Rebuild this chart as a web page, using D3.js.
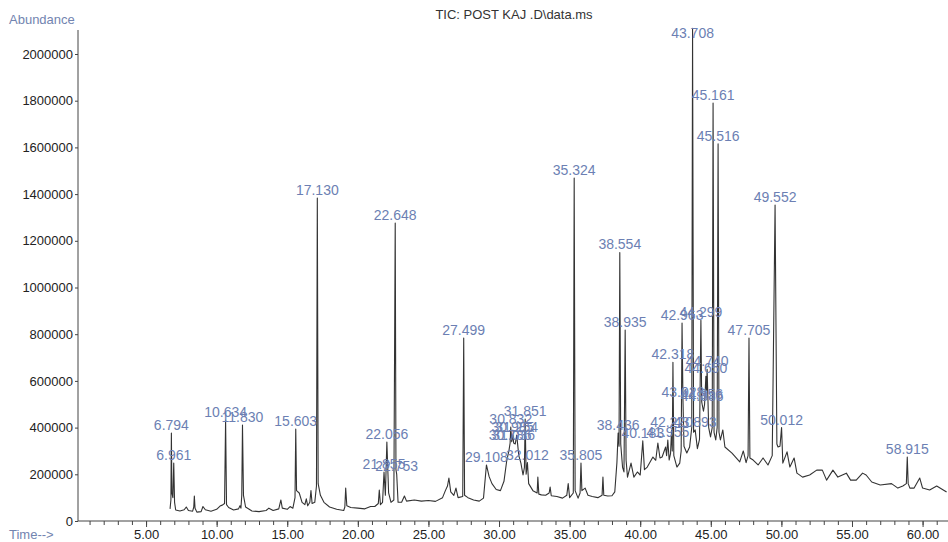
<!DOCTYPE html>
<html>
<head>
<meta charset="utf-8">
<script src="https://cdn.jsdelivr.net/npm/d3@7"></script>
<style>
  body { margin: 0; background: #fff; }
  svg { display: block; font-family: "Liberation Sans", Arial, sans-serif; }
  .trace { fill: none; stroke: #333; stroke-width: 1.1; stroke-linejoin: round; }
  .peak { fill: #6c7fb3; font-size: 14px; text-anchor: middle; }
  .axis path, .axis line { stroke: #444; }
  .axis text { fill: #222; font-size: 13px; }
</style>
</head>
<body>
<svg width="948" height="542"></svg>
<script>
// retention time (min), abundance
var ticTrace = [
  [6.70, 52000], [6.76, 90000], [6.794, 377000], [6.83, 120000], [6.90, 100000],
  [6.961, 248000], [7.02, 80000], [7.10, 47000], [7.40, 43000], [7.70, 48000],
  [7.85, 60000], [8.00, 45000], [8.30, 42000], [8.38, 60000], [8.42, 107000],
  [8.47, 55000], [8.60, 38000], [8.90, 40000], [9.03, 62000], [9.20, 48000],
  [9.60, 42000], [10.00, 50000], [10.24, 64000], [10.40, 68000], [10.56, 75000],
  [10.634, 432000], [10.70, 70000], [10.85, 58000], [11.20, 47000], [11.55, 52000],
  [11.65, 65000], [11.72, 55000], [11.78, 110000], [11.830, 411000], [11.90, 110000],
  [12.05, 60000], [12.50, 43000], [13.00, 40000], [13.50, 45000], [13.70, 55000],
  [14.00, 45000], [14.40, 52000], [14.55, 90000], [14.65, 55000], [15.00, 50000],
  [15.20, 62000], [15.40, 55000], [15.55, 100000], [15.603, 394000], [15.66, 130000],
  [15.85, 120000], [16.05, 80000], [16.25, 70000], [16.35, 95000], [16.45, 65000],
  [16.60, 80000], [16.68, 130000], [16.76, 75000], [16.95, 80000], [17.07, 150000],
  [17.130, 1383000], [17.19, 160000], [17.35, 110000], [17.60, 80000], [18.00, 60000],
  [18.50, 50000], [19.00, 45000], [19.08, 60000], [19.14, 141000], [19.22, 65000],
  [19.50, 58000], [20.00, 55000], [20.50, 52000], [20.90, 62000], [21.20, 62000],
  [21.45, 75000], [21.52, 133000], [21.60, 70000], [21.75, 80000], [21.855, 210000],
  [21.95, 110000], [22.056, 338000], [22.18, 120000], [22.35, 80000], [22.55, 90000],
  [22.648, 1276000], [22.70, 220000], [22.753, 200000], [22.85, 80000], [23.10, 80000],
  [23.30, 107000], [23.45, 85000], [24.00, 90000], [24.50, 85000], [25.00, 88000],
  [25.50, 84000], [26.00, 100000], [26.20, 130000], [26.35, 150000], [26.45, 184000],
  [26.58, 125000], [26.80, 110000], [26.95, 141000], [27.10, 100000], [27.43, 105000],
  [27.499, 784000], [27.56, 110000], [27.80, 100000], [28.20, 90000], [28.60, 85000],
  [28.90, 98000], [29.108, 240000], [29.30, 190000], [29.50, 160000], [29.80, 135000],
  [30.10, 130000], [30.35, 170000], [30.55, 260000], [30.70, 300000], [30.786, 334000],
  [30.832, 402000], [30.90, 340000], [30.985, 368000], [31.036, 334000], [31.15, 330000],
  [31.254, 368000], [31.40, 280000], [31.55, 248000], [31.70, 197000], [31.80, 230000],
  [31.851, 437000], [31.92, 200000], [32.012, 250000], [32.10, 160000], [32.40, 130000],
  [32.70, 120000], [32.75, 188000], [32.82, 115000], [33.00, 112000], [33.30, 110000],
  [33.55, 120000], [33.62, 145000], [33.70, 108000], [34.10, 105000], [34.50, 98000],
  [34.80, 110000], [34.90, 160000], [35.00, 100000], [35.26, 120000], [35.324, 1469000],
  [35.39, 130000], [35.60, 98000], [35.74, 120000], [35.805, 248000], [35.87, 130000],
  [36.10, 141000], [36.30, 110000], [36.60, 105000], [37.00, 100000], [37.30, 110000],
  [37.36, 188000], [37.42, 110000], [37.70, 107000], [38.00, 108000], [38.20, 125000],
  [38.35, 250000], [38.436, 377000], [38.50, 320000], [38.554, 1150000], [38.62, 330000],
  [38.75, 230000], [38.85, 210000], [38.935, 818000], [39.00, 260000], [39.10, 188000],
  [39.35, 248000], [39.55, 188000], [39.80, 210000], [40.00, 197000], [40.183, 343000],
  [40.30, 220000], [40.50, 231000], [40.90, 274000], [41.10, 260000], [41.25, 334000],
  [41.40, 270000], [41.55, 274000], [41.80, 317000], [41.87, 280000], [41.955, 347000],
  [42.05, 261000], [42.15, 290000], [42.220, 390000], [42.27, 300000], [42.318, 680000],
  [42.38, 280000], [42.60, 231000], [42.80, 248000], [42.90, 300000], [42.963, 848000],
  [43.028, 520000], [43.10, 320000], [43.30, 291000], [43.50, 317000], [43.65, 400000],
  [43.708, 2110000], [43.78, 380000], [43.893, 390000], [44.05, 310000], [44.20, 350000],
  [44.299, 860000], [44.356, 510000], [44.386, 500000], [44.48, 470000], [44.56, 500000],
  [44.650, 620000], [44.70, 560000], [44.740, 650000], [44.85, 400000], [44.98, 360000],
  [45.10, 400000], [45.161, 1790000], [45.23, 380000], [45.35, 347000], [45.45, 400000],
  [45.516, 1615000], [45.58, 380000], [45.68, 347000], [45.85, 390000], [46.00, 317000],
  [46.50, 291000], [46.80, 270000], [47.05, 253000], [47.30, 300000], [47.50, 250000],
  [47.64, 280000], [47.705, 784000], [47.77, 270000], [48.00, 261000], [48.35, 240000],
  [48.70, 270000], [49.05, 240000], [49.35, 280000], [49.552, 1353000], [49.68, 330000],
  [49.76, 317000], [49.90, 320000], [50.012, 400000], [50.10, 248000], [50.40, 296000],
  [50.60, 231000], [50.90, 270000], [51.10, 205000], [51.50, 188000], [52.00, 197000],
  [52.50, 218000], [52.90, 218000], [53.20, 175000], [53.65, 218000], [54.00, 188000],
  [54.60, 205000], [54.90, 175000], [55.30, 175000], [55.75, 205000], [56.00, 197000],
  [56.40, 167000], [57.00, 154000], [57.80, 160000], [58.25, 141000], [58.60, 150000],
  [58.85, 160000], [58.915, 274000], [58.98, 160000], [59.10, 141000], [59.40, 141000],
  [59.80, 184000], [60.00, 141000], [60.50, 133000], [61.00, 150000], [61.70, 124000]
];

// integrated peaks that carry a retention-time label
var peakLabels = [
  '6.794', '6.961', '10.634', '11.830', '15.603', '17.130', '21.855', '22.056',
  '22.648', '22.753', '27.499', '29.108', '30.786', '30.832', '30.985', '31.036',
  '31.254', '31.851', '32.012', '35.324', '35.805', '38.436', '38.554', '38.935',
  '40.183', '41.955', '42.220', '42.318', '42.963', '43.028', '43.708', '43.893',
  '44.299', '44.356', '44.386', '44.650', '44.740', '45.161', '45.516', '47.705',
  '49.552', '50.012', '58.915'
];

var timeTicks = [5, 10, 15, 20, 25, 30, 35, 40, 45, 50, 55, 60];
var abundanceTicks = [0, 200000, 400000, 600000, 800000, 1000000, 1200000,
  1400000, 1600000, 1800000, 2000000];

var svg = d3.select('svg');

var x = d3.scaleLinear().domain([0.18, 61.8]).range([78, 948]);
var y = d3.scaleLinear().domain([0, 2000000]).range([521, 54]);

// title and axis captions
svg.append('text')
  .attr('x', 514).attr('y', 19)
  .attr('text-anchor', 'middle')
  .style('font-size', '13px').style('fill', '#333')
  .text('TIC: POST KAJ .D\\data.ms');

svg.append('text')
  .attr('x', 9).attr('y', 24)
  .style('font-size', '13px').style('fill', '#7284b0')
  .text('Abundance');

svg.append('text')
  .attr('x', 9).attr('y', 539)
  .style('font-size', '13px').style('fill', '#7284b0')
  .text('Time-->');

// y axis
var yAxis = svg.append('g')
  .attr('class', 'axis')
  .attr('transform', 'translate(78,0)')
  .call(d3.axisLeft(y).tickValues(abundanceTicks).tickSize(3).tickPadding(2)
    .tickFormat(d3.format('d')));
yAxis.select('.domain').attr('d', 'M0,30V521');

// x axis: minor ticks every minute, labelled every 5
var xMinor = svg.append('g')
  .attr('class', 'axis')
  .attr('transform', 'translate(0,521)')
  .call(d3.axisBottom(x).tickValues(d3.range(1, 62)).tickSize(4).tickFormat(''));
xMinor.select('.domain').remove();

var xAxis = svg.append('g')
  .attr('class', 'axis')
  .attr('transform', 'translate(0,521)')
  .call(d3.axisBottom(x).tickValues(timeTicks).tickSize(6).tickPadding(3)
    .tickFormat(d3.format('.2f')));
xAxis.select('.domain').attr('d', 'M78,0H948');

// chromatogram trace
var line = d3.line()
  .x(function(d) { return x(d[0]); })
  .y(function(d) { return y(d[1]); });

svg.append('path')
  .datum(ticTrace)
  .attr('class', 'trace')
  .attr('d', line);

// peak labels sit just over each apex
svg.append('g').selectAll('text')
  .data(peakLabels)
  .enter().append('text')
  .attr('class', 'peak')
  .attr('x', function(d) { return x(+d); })
  .attr('y', function(d) {
    var apex = ticTrace.find(function(p) { return Math.abs(p[0] - +d) < 1e-6; });
    return Math.max(38, y(apex[1]) - 3);
  })
  .text(function(d) { return d; });
</script>
</body>
</html>
